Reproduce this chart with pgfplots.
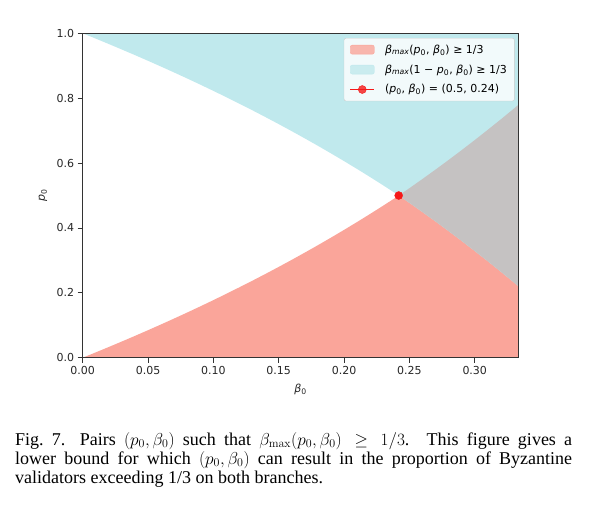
\documentclass[border=0pt]{standalone}
\usepackage{pgfplots}
\pgfplotsset{compat=1.18}
\usepackage{pgfplotstable}
\usepgfplotslibrary{fillbetween}
\usepackage[no-math]{fontspec}
\setmainfont{DejaVu Sans}
\newfontfamily\capfont{Liberation Serif}

\definecolor{regred}{RGB}{250,165,154}
\definecolor{regcyan}{RGB}{192,233,237}
\definecolor{reggray}{RGB}{197,194,194}
\definecolor{dotred}{RGB}{245,25,25}

% boundary of the two regions: f = upper edge of red, g = 1-f = lower edge of cyan
\pgfplotstableread{
x       f       g       b t
0       0       1       0 1
0.01    0.01642 0.98358 0 1
0.02    0.0331  0.9669  0 1
0.03    0.05005 0.94995 0 1
0.04    0.06728 0.93272 0 1
0.05    0.08481 0.91519 0 1
0.06    0.10266 0.89734 0 1
0.07    0.12084 0.87916 0 1
0.08    0.13936 0.86064 0 1
0.09    0.15824 0.84176 0 1
0.10    0.1775  0.8225  0 1
0.11    0.19715 0.80285 0 1
0.12    0.2172  0.7828  0 1
0.13    0.23767 0.76233 0 1
0.14    0.25858 0.74142 0 1
0.15    0.27994 0.72006 0 1
0.16    0.30176 0.69824 0 1
0.17    0.32406 0.67594 0 1
0.18    0.34686 0.65314 0 1
0.19    0.37017 0.62983 0 1
0.20    0.394   0.606   0 1
0.21    0.41837 0.58163 0 1
0.22    0.4433  0.5567  0 1
0.23    0.4688  0.5312  0 1
0.24    0.49488 0.50512 0 1
0.2418  0.5     0.5     0 1
0.25    0.5225  0.4775  0 1
0.26    0.5509  0.4491  0 1
0.27    0.5799  0.4201  0 1
0.28    0.6095  0.3905  0 1
0.29    0.6399  0.3601  0 1
0.30    0.6709  0.3291  0 1
0.31    0.7026  0.2974  0 1
0.32    0.7349  0.2651  0 1
0.33    0.7680  0.2320  0 1
0.33333 0.7792  0.2208  0 1
}\bnd

\newcommand{\lfont}{\fontsize{11}{13}\selectfont}
\newcommand{\pb}{(\textit{p}\textsubscript{0}, \textit{β}\textsubscript{0})}

\begin{document}
\begin{tikzpicture}
\begin{axis}[
  scale only axis, width=435.6pt, height=324.4pt,
  xmin=0, xmax=0.33333, ymin=0, ymax=1,
  axis on top,
  axis line style={black!80, line width=0.8pt},
  xtick={0,0.05,0.1,0.15,0.2,0.25,0.3},
  ytick={0,0.2,0.4,0.6,0.8,1},
  tick align=outside, xtick pos=bottom, ytick pos=left,
  major tick length=5pt,
  tick style={black!80, line width=0.8pt},
  xticklabel style={/pgf/number format/.cd, fixed, fixed zerofill, precision=2, /tikz/.cd},
  yticklabel style={/pgf/number format/.cd, fixed, fixed zerofill, precision=1, /tikz/.cd},
  /pgf/number format/assume math mode=true,
  tick label style={font=\lfont, text=black!85},
  xlabel={\textit{β}\textsubscript{0}},
  ylabel={\textit{p}\textsubscript{0}},
  label style={font=\lfont, text=black!85},
  xlabel style={at={(axis description cs:0.5,-0.0986)}, anchor=center},
  ylabel style={at={(axis description cs:-0.0911,0.5)}, anchor=center},
  legend style={at={(rel axis cs:0.9915,0.9855)}, anchor=north east,
    draw=black!20, fill=white, fill opacity=0.8, text opacity=1,
    rounded corners=2pt, font=\lfont, inner xsep=5.5pt, inner ysep=4.5pt,
    row sep=6pt, /tikz/every odd column/.append style={column sep=8pt}},
  legend cell align=left,
]
\addplot[name path=B, draw=none, forget plot] table[x=x, y=b] {\bnd};
\addplot[name path=F, draw=none, forget plot] table[x=x, y=f] {\bnd};
\addplot[name path=G, draw=none, forget plot] table[x=x, y=g] {\bnd};
\addplot[name path=T, draw=none, forget plot] table[x=x, y=t] {\bnd};

\addplot[fill=regred, draw=none, forget plot] fill between[of=B and F];
\addplot[fill=regcyan, draw=none, forget plot] fill between[of=G and T];
\addplot[fill=reggray, draw=none, forget plot] fill between[of=G and F, soft clip={domain=0.2418:0.34}];

\addplot[only marks, mark=*, mark size=4pt, color=dotred, forget plot] coordinates {(0.2418,0.5)};

\addlegendimage{legend image code/.code={\fill[regred] (0pt,-4.5pt) rectangle (24pt,4.5pt);}}
\addlegendentry{\textit{β}\textsubscript{\textit{max}}\pb{} ≥ 1/3}
\addlegendimage{legend image code/.code={\fill[regcyan] (0pt,-4.5pt) rectangle (24pt,4.5pt);}}
\addlegendentry{\textit{β}\textsubscript{\textit{max}}(1 − \textit{p}\textsubscript{0}, \textit{β}\textsubscript{0}) ≥ 1/3}
\addlegendimage{legend image code/.code={\draw[dotred, line width=1.5pt] (0pt,0pt) -- (24pt,0pt); \fill[dotred] (12pt,0pt) circle (4pt);}}
\addlegendentry{\pb{} = (0.5, 0.24)}
\end{axis}

\node[anchor=base west, inner sep=0pt, text width=557pt, align=justify,
  font=\capfont\fontsize{18}{19.2}\selectfont]
  at (-67.7pt,-87.3pt)
  {\hyphenpenalty=10000 Fig.~7.\hspace{0.8em}Pairs $(p_0,\beta_0)$ such that $\beta_{\max}(p_0,\beta_0)\geq 1/3$. This figure gives a\linebreak lower bound for which $(p_0,\beta_0)$ can result in the proportion of Byzantine\linebreak validators exceeding 1/3 on both branches.};
\path (-82.7pt,-149.3pt) rectangle (527.3pt,357.7pt);
\end{tikzpicture}
\end{document}
